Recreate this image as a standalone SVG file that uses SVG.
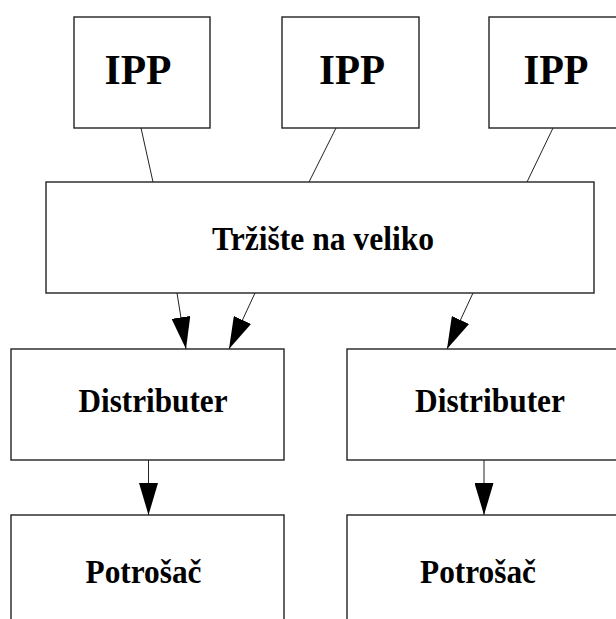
<svg xmlns="http://www.w3.org/2000/svg" width="616" height="619" viewBox="0 0 616 619">
<style>
  .box { fill: #ffffff; stroke: #222222; stroke-width: 1.4; }
  .lbl { font-family: "Liberation Serif", "Times New Roman", serif; font-weight: bold; fill: #000000; text-anchor: middle; }
  .big { font-size: 42px; }
  .mid { font-size: 33px; }
  .edge { stroke: #222222; stroke-width: 1; fill: none; }
</style>
<defs>
  <marker id="arr" viewBox="0 0 32 19" markerWidth="32" markerHeight="19" markerUnits="userSpaceOnUse" refX="32" refY="9.5" orient="auto">
    <path d="M0,0 L32,9.5 L0,19 z" fill="#000000"/>
  </marker>
</defs>
<rect width="616" height="619" fill="#ffffff"/>
<g id="connectors">
  <line class="edge" x1="141" y1="128" x2="153" y2="182"/>
  <line class="edge" x1="336" y1="128" x2="309" y2="182"/>
  <line class="edge" x1="553" y1="128" x2="527" y2="182"/>
  <line class="edge" x1="177" y1="293" x2="186" y2="349" marker-end="url(#arr)"/>
  <line class="edge" x1="255" y1="293" x2="229" y2="349" marker-end="url(#arr)"/>
  <line class="edge" x1="473" y1="293" x2="447" y2="349" marker-end="url(#arr)"/>
  <line class="edge" x1="148.5" y1="460" x2="148.5" y2="515" marker-end="url(#arr)"/>
  <line class="edge" x1="484" y1="460" x2="484" y2="515" marker-end="url(#arr)"/>
</g>
<g id="ipp1">
  <rect class="box" x="74" y="17" width="136" height="111"/>
  <text class="lbl big" x="138" y="84" textLength="67" lengthAdjust="spacingAndGlyphs">IPP</text>
</g>
<g id="ipp2">
  <rect class="box" x="282" y="17" width="137" height="111"/>
  <text class="lbl big" x="352" y="84" textLength="66" lengthAdjust="spacingAndGlyphs">IPP</text>
</g>
<g id="ipp3">
  <rect class="box" x="489" y="17" width="140" height="111"/>
  <text class="lbl big" x="556" y="84" textLength="65" lengthAdjust="spacingAndGlyphs">IPP</text>
</g>
<g id="trziste">
  <rect class="box" x="46" y="182" width="548" height="111"/>
  <text class="lbl mid" x="323" y="250" textLength="222" lengthAdjust="spacingAndGlyphs">Tržište na veliko</text>
</g>
<g id="distributer1">
  <rect class="box" x="11" y="349" width="273" height="111"/>
  <text class="lbl mid" x="153" y="412" textLength="149" lengthAdjust="spacingAndGlyphs">Distributer</text>
</g>
<g id="distributer2">
  <rect class="box" x="347" y="349" width="273" height="111"/>
  <text class="lbl mid" x="490" y="412" textLength="150" lengthAdjust="spacingAndGlyphs">Distributer</text>
</g>
<g id="potrosac1">
  <rect class="box" x="11" y="515" width="273" height="111"/>
  <text class="lbl mid" x="143.5" y="583" textLength="116" lengthAdjust="spacingAndGlyphs">Potrošač</text>
</g>
<g id="potrosac2">
  <rect class="box" x="347" y="515" width="273" height="111"/>
  <text class="lbl mid" x="478" y="583" textLength="116" lengthAdjust="spacingAndGlyphs">Potrošač</text>
</g>
</svg>
